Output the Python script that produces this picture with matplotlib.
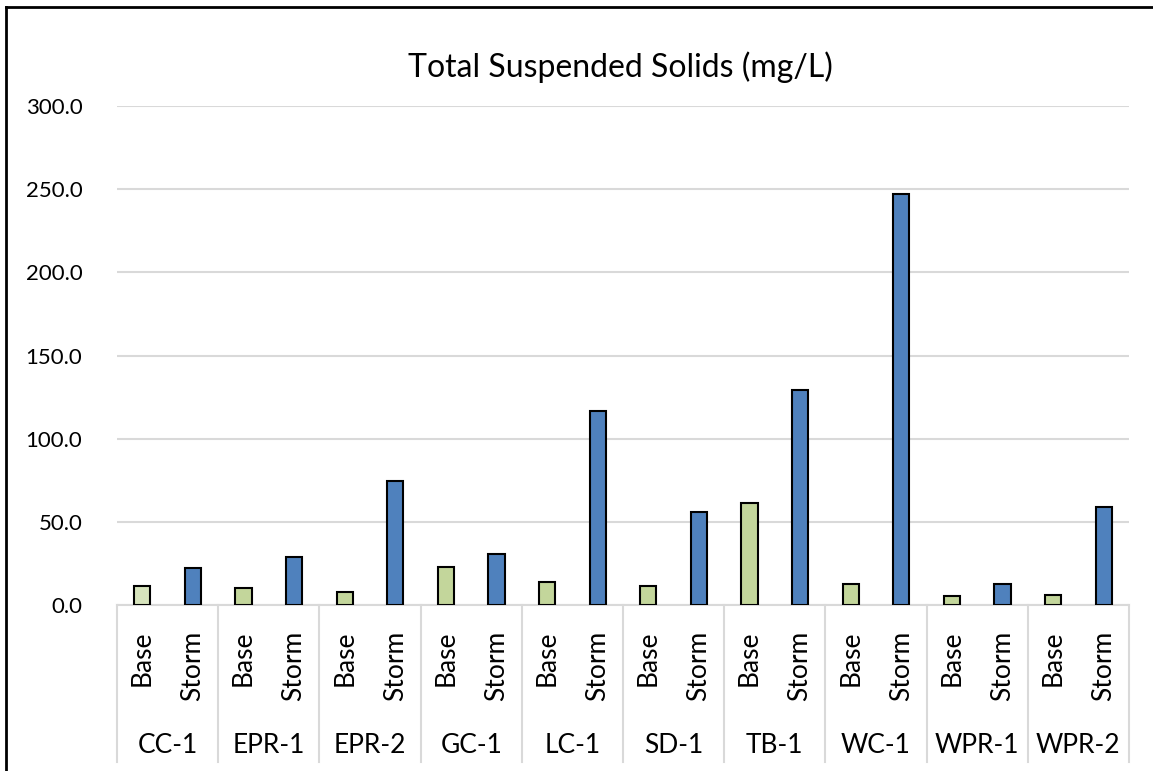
import matplotlib
matplotlib.use("Agg")
import matplotlib.pyplot as plt
import matplotlib.transforms as mtransforms
import numpy as np

sites = ["CC-1", "EPR-1", "EPR-2", "GC-1", "LC-1", "SD-1", "TB-1", "WC-1", "WPR-1", "WPR-2"]
conditions = ["Base", "Storm"]
base = [11.6, 10.4, 8.0, 23.1, 13.9, 11.2, 61.6, 12.9, 5.4, 6.2]
storm = [22.1, 28.7, 74.8, 30.5, 116.7, 55.8, 129.0, 247.3, 12.4, 59.2]
yticks = [0, 50, 100, 150, 200, 250, 300]

plt.rcParams['font.family'] = ['Lato', 'DejaVu Sans']

fig = plt.figure(figsize=(11.53, 7.71), dpi=100)
ax = fig.add_axes([117/1153, 1-605/771, 1012/1153, 499/771])

x = np.arange(len(sites))
base_colors = ["#D7E4BD"] + ["#C3D69B"] * (len(sites) - 1)
ax.bar(2*x, base, width=0.32, color=base_colors, edgecolor="black", linewidth=1.5, zorder=3)
ax.bar(2*x + 1, storm, width=0.32, color="#4F81BD", edgecolor="black", linewidth=1.5, zorder=3)

ax.set_xlim(-0.5, 2*len(sites) - 0.5)
ax.set_ylim(0, 300)
ax.set_yticks(yticks)
ax.set_yticklabels([f"{v:.1f}" for v in yticks], fontsize=16)
ax.tick_params(axis="y", length=0, pad=25)
ax.set_xticks([])
ax.grid(axis="y", color="#D9D9D9", linewidth=1.5, zorder=0)
for s in ["top", "right", "left"]:
    ax.spines[s].set_visible(False)
ax.spines["bottom"].set_color("#D9D9D9")
ax.spines["bottom"].set_linewidth(1.5)
ax.spines["bottom"].set_zorder(1)

trans = mtransforms.blended_transform_factory(ax.transData, ax.transAxes)
for i, site in enumerate(sites):
    for j, cond in enumerate(conditions):
        ax.text(2*i + j, -0.052, cond, rotation=90, ha="center", va="top",
                fontsize=19, transform=trans)
    ax.text(2*i + 0.5, -0.281, site, ha="center", va="center", fontsize=19, transform=trans)
for k in range(len(sites) + 1):
    ax.plot([2*k - 0.5, 2*k - 0.5], [0, -0.315], color="#D9D9D9", linewidth=1.5,
            transform=trans, clip_on=False)

fig.text(620/1153, 1-67/771, "Total Suspended Solids (mg/L)", ha="center", va="center", fontsize=23)

# chart border (cropped on the right and bottom)
fig.add_artist(plt.Line2D([6/1153, 6/1153], [0, 1-7/771], color="black", linewidth=2, transform=fig.transFigure))
fig.add_artist(plt.Line2D([6/1153, 1], [1-7/771, 1-7/771], color="black", linewidth=2, transform=fig.transFigure))

fig.savefig("out.png", dpi=100)
